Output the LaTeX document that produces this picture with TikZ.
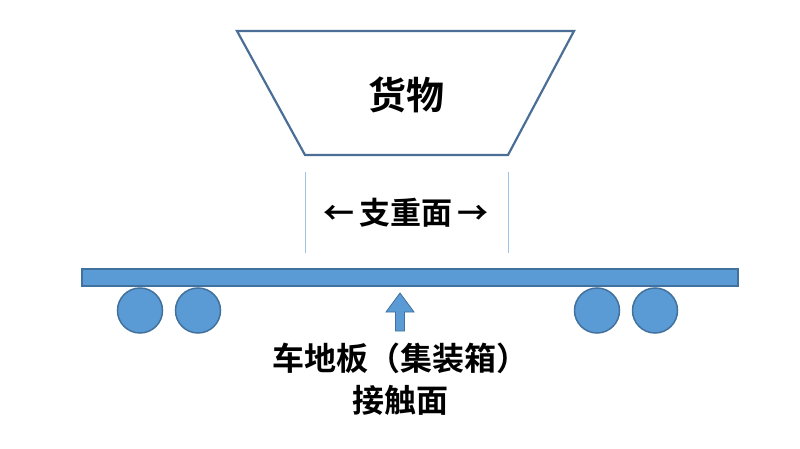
\documentclass[tikz,border=0pt]{standalone}
\usepackage{fontspec}
\newfontfamily\cjk{Noto Sans CJK SC}[BoldFont={Noto Sans CJK SC Bold}]
\definecolor{barfill}{HTML}{5B9BD5}
\definecolor{barline}{HTML}{41719C}
\definecolor{trapline}{HTML}{4A6E96}
\definecolor{guide}{HTML}{9DC3E6}
\begin{document}
\begin{tikzpicture}[x=1pt,y=-1pt,
  blue shape/.style={fill=barfill,draw=barline,line width=1.5pt},
  lbl/.style={font=\cjk\bfseries,text=black,inner sep=0pt},
  guideline/.style={draw=guide,line width=1pt}]
\useasboundingbox (0,0) rectangle (800,449);
% cargo trapezoid
\draw[draw=trapline,line width=2.2pt,line join=miter] (237,31) -- (574,31) -- (508,155) -- (305,155) -- cycle;
\node[lbl,font=\cjk\bfseries\fontsize{38}{42}\selectfont] (cargo) at (406,95) {货物};
% guide lines
\coordinate (g1a) at (305,172); \coordinate (g1b) at (305,253);
\coordinate (g2a) at (508,172); \coordinate (g2b) at (508,253);
\draw[guideline] (g1a) -- (g1b);
\draw[guideline] (g2a) -- (g2b);
\node[lbl,font=\cjk\bfseries\fontsize{31}{34}\selectfont] (support) at (406,213) {←\,支重面\,→};
% floor bar
\draw[blue shape] (82,269) rectangle (738,286);
% wheels
\node[blue shape,circle,minimum size=45pt,inner sep=0pt] (w1) at (140,310.5) {};
\node[blue shape,circle,minimum size=45pt,inner sep=0pt] (w2) at (198,310.5) {};
\node[blue shape,circle,minimum size=45pt,inner sep=0pt] (w3) at (597,310.5) {};
\node[blue shape,circle,minimum size=45pt,inner sep=0pt] (w4) at (655,310.5) {};
% up block arrow
\draw[fill=barfill,draw=barline,line width=0.8pt,line join=miter]
  (400,293) -- (414,312) -- (404.5,312) -- (404.5,331) -- (395.5,331) -- (395.5,312) -- (386,312) -- cycle;
% bottom label
\node[lbl,font=\cjk\bfseries\fontsize{32}{42}\selectfont,align=center] (floor) at (400,379) {车地板（集装箱）\\接触面};
\end{tikzpicture}
\end{document}
